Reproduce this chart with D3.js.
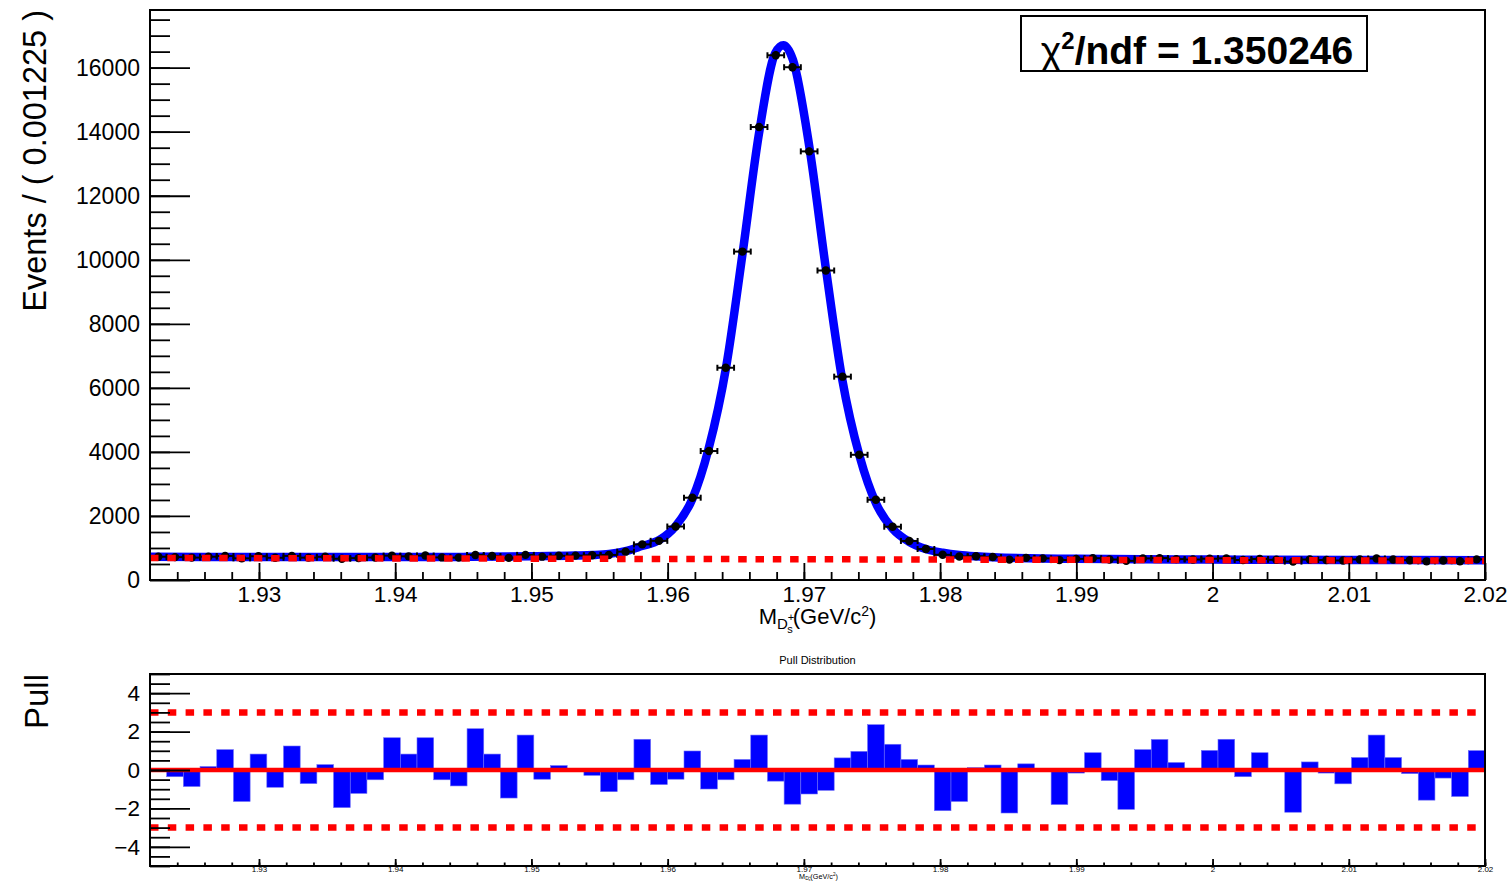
<!DOCTYPE html>
<html>
<head>
<meta charset="utf-8">
<script src="https://cdn.jsdelivr.net/npm/d3@7"></script>
<style>
  body { margin: 0; background: #fff; }
  svg { display: block; font-family: "Liberation Sans", Arial, Helvetica, sans-serif; }
</style>
</head>
<body>
<svg id="chart" width="1511" height="882"></svg>
<script>
(function(){

  // binning of the mass histogram
  var binLo = 1.922, binWidth = 0.001225, nBins = 80;

  // events per bin
  var counts = [726, 715, 700, 727, 749, 676, 741, 694, 752, 698,
                724, 664, 683, 702, 761, 739, 763, 705, 699, 781,
                748, 691, 784, 729, 756, 762, 772, 783, 885, 1112,
                1223, 1670, 2570, 4027, 6628, 10256, 14145, 16386, 16013, 13385,
                9665, 6350, 3910, 2505, 1664, 1219, 968, 788, 734, 743,
                719, 636, 692, 676, 622, 659, 681, 640, 598, 674,
                684, 652, 640, 664, 676, 625, 655, 631, 575, 640,
                624, 609, 642, 671, 640, 618, 583, 611, 586, 644];

  // pull per bin
  var pulls = [0.05, -0.35, -0.86, 0.18, 1.06, -1.64, 0.83, -0.90, 1.25, -0.71,
               0.28, -1.96, -1.22, -0.51, 1.68, 0.83, 1.68, -0.51, -0.83, 2.15,
               0.83, -1.46, 1.82, -0.48, 0.23, 0.02, -0.28, -1.13, -0.51, 1.60,
               -0.76, -0.48, 0.99, -0.99, -0.51, 0.55, 1.82, -0.58, -1.78, -1.25,
               -1.06, 0.63, 0.97, 2.36, 1.34, 0.55, 0.26, -2.12, -1.64, 0.12,
               0.26, -2.24, 0.32, 0.00, -1.80, -0.16, 0.90, -0.55, -2.05, 1.06,
               1.59, 0.39, 0.00, 1.02, 1.60, -0.35, 0.90, 0.00, -2.20, 0.42,
               -0.16, -0.72, 0.65, 1.82, 0.65, -0.19, -1.57, -0.42, -1.38, 1.01];

  // total fit curve
  var fitMass = [1.922, 1.930, 1.940, 1.945, 1.950, 1.9532, 1.9545, 1.9557, 1.9569, 1.9581,
                 1.9594, 1.9606, 1.9618, 1.9630, 1.9643, 1.9655, 1.9667, 1.9679, 1.9685, 1.9692,
                 1.9704, 1.9716, 1.9728, 1.9741, 1.9753, 1.9765, 1.9777, 1.9790, 1.9802, 1.9814,
                 1.9826, 1.9839, 1.990, 2.000, 2.010, 2.020];
  var fitVal = [725, 719, 716, 722, 738, 762, 780, 815, 900, 1060,
                1250, 1690, 2520, 4090, 6670, 10200, 13930, 16460, 16700, 16240,
                13530, 9770, 6300, 3850, 2390, 1610, 1200, 960, 850, 780,
                740, 712, 660, 638, 627, 618];

  // background component
  var bkgMass = [1.922, 2.020];
  var bkgVal = [690, 603];

  var massTicks = [1.93, 1.94, 1.95, 1.96, 1.97, 1.98, 1.99, 2.00, 2.01, 2.02];
  var countTicks = [0, 2000, 4000, 6000, 8000, 10000, 12000, 14000, 16000];
  var pullTicks = [-4, -2, 0, 2, 4];
  var pullBands = [-3, 3];
  var chi2ndf = '1.350246';

  var main = { left: 150, right: 1485, top: 10, bottom: 580 };
  var pane = { left: 150, right: 1485, top: 674, bottom: 866 };

  var x = d3.scaleLinear().domain([binLo, binLo + nBins * binWidth]).range([main.left, main.right]);
  var y = d3.scaleLinear().domain([0, 17800]).range([main.bottom, main.top]);
  var yp = d3.scaleLinear().domain([-5, 5]).range([pane.bottom, pane.top]);

  var svg = d3.select('#chart');
  svg.append('rect').attr('width', 1511).attr('height', 882).attr('fill', '#fff');

  var defs = svg.append('defs');
  defs.append('clipPath').attr('id', 'clipMain').append('rect')
    .attr('x', main.left).attr('y', main.top)
    .attr('width', main.right - main.left).attr('height', main.bottom - main.top);
  defs.append('clipPath').attr('id', 'clipPull').append('rect')
    .attr('x', pane.left).attr('y', pane.top)
    .attr('width', pane.right - pane.left).attr('height', pane.bottom - pane.top);

  var bins = counts.map(function(c, i){
    return { lo: binLo + i * binWidth, hi: binLo + (i + 1) * binWidth,
             mid: binLo + (i + 0.5) * binWidth, n: c, pull: pulls[i] };
  });

  // ---- main pad
  var plot = svg.append('g').attr('clip-path', 'url(#clipMain)');

  var fitLine = d3.line()
    .x(function(d){ return x(d[0]); })
    .y(function(d){ return y(d[1]); })
    .curve(d3.curveMonotoneX);

  plot.append('path')
    .datum(d3.zip(fitMass, fitVal))
    .attr('d', fitLine)
    .attr('fill', 'none')
    .attr('stroke', '#0000ff')
    .attr('stroke-width', 8.5);

  var pts = plot.append('g').attr('class', 'points');
  var pt = pts.selectAll('g').data(bins).enter().append('g');
  pt.append('line')
    .attr('x1', function(d){ return x(d.lo); })
    .attr('x2', function(d){ return x(d.hi); })
    .attr('y1', function(d){ return y(d.n); })
    .attr('y2', function(d){ return y(d.n); });
  pt.append('line')
    .attr('x1', function(d){ return x(d.lo); })
    .attr('x2', function(d){ return x(d.lo); })
    .attr('y1', function(d){ return y(d.n) - 3; })
    .attr('y2', function(d){ return y(d.n) + 3; });
  pt.append('line')
    .attr('x1', function(d){ return x(d.hi); })
    .attr('x2', function(d){ return x(d.hi); })
    .attr('y1', function(d){ return y(d.n) - 3; })
    .attr('y2', function(d){ return y(d.n) + 3; });
  pt.append('line')
    .attr('x1', function(d){ return x(d.mid); })
    .attr('x2', function(d){ return x(d.mid); })
    .attr('y1', function(d){ return y(d.n - Math.sqrt(d.n)); })
    .attr('y2', function(d){ return y(d.n + Math.sqrt(d.n)); });
  pt.selectAll('line').attr('stroke', '#000').attr('stroke-width', 2);
  pt.append('circle')
    .attr('cx', function(d){ return x(d.mid); })
    .attr('cy', function(d){ return y(d.n); })
    .attr('r', 4.2)
    .attr('fill', '#000');

  plot.append('path')
    .datum(d3.zip(bkgMass, bkgVal))
    .attr('d', d3.line().x(function(d){ return x(d[0]); }).y(function(d){ return y(d[1]); }))
    .attr('fill', 'none')
    .attr('stroke', '#ff0000')
    .attr('stroke-width', 6.5)
    .attr('stroke-dasharray', '8.5 8.8');

  // axes of main pad
  function styleAxis(g){
    g.select('.domain').remove();
    g.selectAll('line').attr('stroke', '#000').attr('stroke-width', 1.8);
    g.attr('font-family', null).attr('font-size', null);
  }

  var minorX = d3.range(1.924, 2.0201, 0.002);
  svg.append('g')
    .attr('transform', 'translate(0,' + main.bottom + ')')
    .call(d3.axisBottom(x).tickValues(minorX).tickSize(-8).tickFormat(''))
    .call(styleAxis);
  var gx = svg.append('g')
    .attr('transform', 'translate(0,' + main.bottom + ')')
    .call(d3.axisBottom(x).tickValues(massTicks).tickSize(-17).tickPadding(6)
      .tickFormat(function(d){ return String(+d.toFixed(2)); }))
    .call(styleAxis);
  gx.selectAll('text').attr('font-size', 22.5).attr('fill', '#000');

  var minorY = d3.range(500, 17800, 500);
  svg.append('g')
    .attr('transform', 'translate(' + main.left + ',0)')
    .call(d3.axisLeft(y).tickValues(minorY).tickSize(-20).tickFormat(''))
    .call(styleAxis);
  var gy = svg.append('g')
    .attr('transform', 'translate(' + main.left + ',0)')
    .call(d3.axisLeft(y).tickValues(countTicks).tickSize(-40).tickPadding(10).tickFormat(d3.format('d')))
    .call(styleAxis);
  gy.selectAll('text').attr('font-size', 23).attr('fill', '#000');

  svg.append('rect')
    .attr('x', main.left).attr('y', main.top)
    .attr('width', main.right - main.left).attr('height', main.bottom - main.top)
    .attr('fill', 'none').attr('stroke', '#000').attr('stroke-width', 2);

  // axis titles
  svg.append('text')
    .attr('transform', 'translate(46,' + main.top + ') rotate(-90)')
    .attr('text-anchor', 'end')
    .attr('font-size', 32.5)
    .text('Events / ( 0.001225 )');

  function massTitle(sel, s){
    sel.append('tspan').attr('font-size', 22 * s).text('M');
    sel.append('tspan').attr('font-size', 15 * s).attr('dy', 5 * s).text('D');
    sel.append('tspan').attr('font-size', 11 * s).attr('dy', -8 * s).text('+');
    sel.append('tspan').attr('font-size', 11 * s).attr('dx', -7 * s).attr('dy', 12 * s).text('s');
    sel.append('tspan').attr('font-size', 22 * s).attr('dy', -9 * s).text('(GeV/c');
    sel.append('tspan').attr('font-size', 14 * s).attr('dy', -8 * s).text('2');
    sel.append('tspan').attr('font-size', 22 * s).attr('dy', 8 * s).text(')');
  }

  svg.append('text')
    .attr('x', (main.left + main.right) / 2)
    .attr('y', 624)
    .attr('text-anchor', 'middle')
    .call(massTitle, 1);

  // chi2 box
  svg.append('rect')
    .attr('x', 1021).attr('y', 16).attr('width', 346).attr('height', 55)
    .attr('fill', '#fff').attr('stroke', '#000').attr('stroke-width', 2);
  var chi = svg.append('text')
    .attr('x', 1197).attr('y', 64)
    .attr('text-anchor', 'middle')
    .attr('font-size', 39)
    .attr('font-weight', 'bold');
  chi.append('tspan').attr('font-weight', 'normal').text('\u03c7');
  chi.append('tspan').attr('font-size', 24).attr('dy', -15).text('2');
  chi.append('tspan').attr('dy', 15).text('/ndf = ' + chi2ndf);

  // ---- pull pad
  var pplot = svg.append('g').attr('clip-path', 'url(#clipPull)');

  pplot.selectAll('rect.bar')
    .data(bins)
    .enter().append('rect')
      .attr('class', 'bar')
      .attr('x', function(d){ return x(d.lo); })
      .attr('width', function(d){ return x(d.hi) - x(d.lo); })
      .attr('y', function(d){ return yp(Math.max(d.pull, 0)); })
      .attr('height', function(d){ return Math.abs(yp(d.pull) - yp(0)); })
      .attr('fill', '#0000ff')
      .attr('stroke', '#6f6ff7')
      .attr('stroke-width', 0.6);

  pplot.selectAll('line.band')
    .data(pullBands)
    .enter().append('line')
      .attr('class', 'band')
      .attr('x1', pane.left).attr('x2', pane.right)
      .attr('y1', function(d){ return yp(d); })
      .attr('y2', function(d){ return yp(d); })
      .attr('stroke', '#ff0000')
      .attr('stroke-width', 6.5)
      .attr('stroke-dasharray', '8.5 9.3');

  pplot.append('line')
    .attr('x1', pane.left).attr('x2', pane.right)
    .attr('y1', yp(0)).attr('y2', yp(0))
    .attr('stroke', '#ff0000')
    .attr('stroke-width', 4.5);

  svg.append('g')
    .attr('transform', 'translate(0,' + pane.bottom + ')')
    .call(d3.axisBottom(x).tickValues(minorX).tickSize(-3.5).tickFormat(''))
    .call(styleAxis);
  var pgx = svg.append('g')
    .attr('transform', 'translate(0,' + pane.bottom + ')')
    .call(d3.axisBottom(x).tickValues(massTicks).tickSize(-7).tickPadding(0.5)
      .tickFormat(function(d){ return String(+d.toFixed(2)); }))
    .call(styleAxis);
  pgx.selectAll('text').attr('font-size', 8).attr('fill', '#000');

  var minorP = d3.range(-5, 5.01, 0.5);
  svg.append('g')
    .attr('transform', 'translate(' + pane.left + ',0)')
    .call(d3.axisLeft(yp).tickValues(minorP).tickSize(-20).tickFormat(''))
    .call(styleAxis);
  var pgy = svg.append('g')
    .attr('transform', 'translate(' + pane.left + ',0)')
    .call(d3.axisLeft(yp).tickValues(pullTicks).tickSize(-40).tickPadding(10))
    .call(styleAxis);
  pgy.selectAll('text').attr('font-size', 22.5).attr('fill', '#000');

  svg.append('rect')
    .attr('x', pane.left).attr('y', pane.top)
    .attr('width', pane.right - pane.left).attr('height', pane.bottom - pane.top)
    .attr('fill', 'none').attr('stroke', '#000').attr('stroke-width', 2);

  svg.append('text')
    .attr('transform', 'translate(48,' + pane.top + ') rotate(-90)')
    .attr('text-anchor', 'end')
    .attr('font-size', 33)
    .text('Pull');

  svg.append('text')
    .attr('x', (pane.left + pane.right) / 2)
    .attr('y', 664)
    .attr('text-anchor', 'middle')
    .attr('font-size', 11)
    .text('Pull Distribution');

  svg.append('text')
    .attr('x', (pane.left + pane.right) / 2 + 1)
    .attr('y', 878.5)
    .attr('text-anchor', 'middle')
    .call(massTitle, 0.33);

})();
</script>
</body>
</html>
